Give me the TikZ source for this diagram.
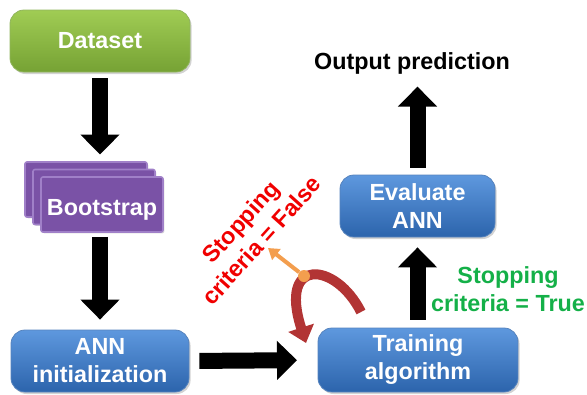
\documentclass[tikz,border=0pt]{standalone}
\usepackage{fontspec}
\setmainfont{Liberation Sans}
\usetikzlibrary{arrows.meta,shadows}

\definecolor{leafgreen}{RGB}{141,187,69}
\definecolor{leafgreenlt}{RGB}{160,204,84}
\definecolor{leafgreendk}{RGB}{118,162,52}
\definecolor{stepblue}{RGB}{63,127,203}
\definecolor{stepbluelt}{RGB}{94,152,222}
\definecolor{stepbluedk}{RGB}{44,100,172}
\definecolor{bootpurple}{RGB}{122,82,166}
\definecolor{bootpurplelt}{RGB}{160,128,200}
\definecolor{loopred}{RGB}{178,52,52}
\definecolor{forkorange}{RGB}{243,158,78}
\definecolor{falsered}{RGB}{240,0,0}
\definecolor{truegreen}{RGB}{20,176,72}

\begin{document}
\begin{tikzpicture}[x=0.75pt,y=0.75pt,yscale=-1,xscale=1,
    bigtext/.style={font=\fontsize{17.5}{21}\selectfont\bfseries, align=center},
    gloss/.style={rounded corners=10.5pt, inner sep=0pt, text=white, bigtext,
        drop shadow={shadow xshift=1.2pt, shadow yshift=-1.5pt, opacity=0.35}},
    greenbox/.style={gloss, draw=leafgreendk!80, line width=0.6pt,
        top color=leafgreenlt, bottom color=leafgreendk},
    bluebox/.style={gloss, draw=stepbluedk!80, line width=0.6pt,
        top color=stepbluelt, bottom color=stepbluedk},
    bootbox/.style={rounded corners=1.5pt, inner sep=0pt, text=white, bigtext,
        fill=bootpurple, draw=bootpurplelt, line width=1.2pt,
        minimum width=91.5pt, minimum height=41.25pt,
        drop shadow={shadow xshift=1pt, shadow yshift=-1pt, opacity=0.3}},
    blockarrow/.style={line width=12pt, black, -{Triangle[width=28.5pt,length=15pt]}},
    looparrow/.style={line width=7.5pt, loopred, -{Triangle[width=19.5pt,length=12pt]}},
    forkarrow/.style={line width=3pt, forkorange, -{Triangle[width=10pt,length=8pt]}},
    forkdot/.style={circle, fill=forkorange, inner sep=0pt, minimum size=9pt}
    ]
    \useasboundingbox (0,0) rectangle (587,394);

    %Shape: Rounded Rect [id:data]
    \node[greenbox, minimum width=135pt, minimum height=46.5pt] (data) at (100,41) {Dataset};

    %Shape: Stacked Rects [id:boot]
    \node[bootbox] (bootC) at (86,189.5) {};
    \node[bootbox] (bootB) at (94,197) {};
    \node[bootbox] (boot) at (102,204.5) {\smash{\raisebox{-8pt}{Bootstrap}}};

    %Shape: Rounded Rect [id:init]
    \node[bluebox, minimum width=133.5pt, minimum height=46.5pt] (init) at (100,361) {ANN\\initialization};
    %Shape: Rounded Rect [id:train]
    \node[bluebox, minimum width=150pt, minimum height=48pt] (train) at (418,360) {Training\\algorithm};
    %Shape: Rounded Rect [id:eval]
    \node[bluebox, minimum width=116.25pt, minimum height=46.5pt] (eval) at (417.5,206) {Evaluate\\ANN};

    % Text Node
    \node[bigtext] (output) at (412,63) {Output prediction};
    % Text Node
    \node[bigtext, text=truegreen] (truelbl) at (508,289) {Stopping\\criteria = True};
    % Text Node
    \node[bigtext, text=falsered, rotate=48] (falselbl) at (251,231) {Stopping\\criteria = False};

    %Block Arrows
    \draw[blockarrow, shorten <=4.5pt, shorten >=5pt] (data.south) -- (data.south |- bootC.north);
    \draw[blockarrow, shorten <=3pt, shorten >=7.5pt] (init.north |- boot.south) -- (init.north);
    \draw[blockarrow, shorten <=7.5pt, shorten >=15.5pt] (init.east) -- (train.west);
    \draw[blockarrow, shorten <=6pt, shorten >=7.5pt] (train.north -| eval.south) -- (eval.south);
    \draw[blockarrow, shorten <=5pt, shorten >=6pt] (eval.north) -- (eval.north |- output.south);

    %Curve Lines [id:loop]
    \draw[looparrow] (361,312) .. controls (336,262) and (278,256) .. (306,343);
    \node[forkdot] (fork) at (304,276) {};
    \coordinate (forktip) at (268,248);
    \draw[forkarrow] (fork) -- (forktip);

\end{tikzpicture}
\end{document}
